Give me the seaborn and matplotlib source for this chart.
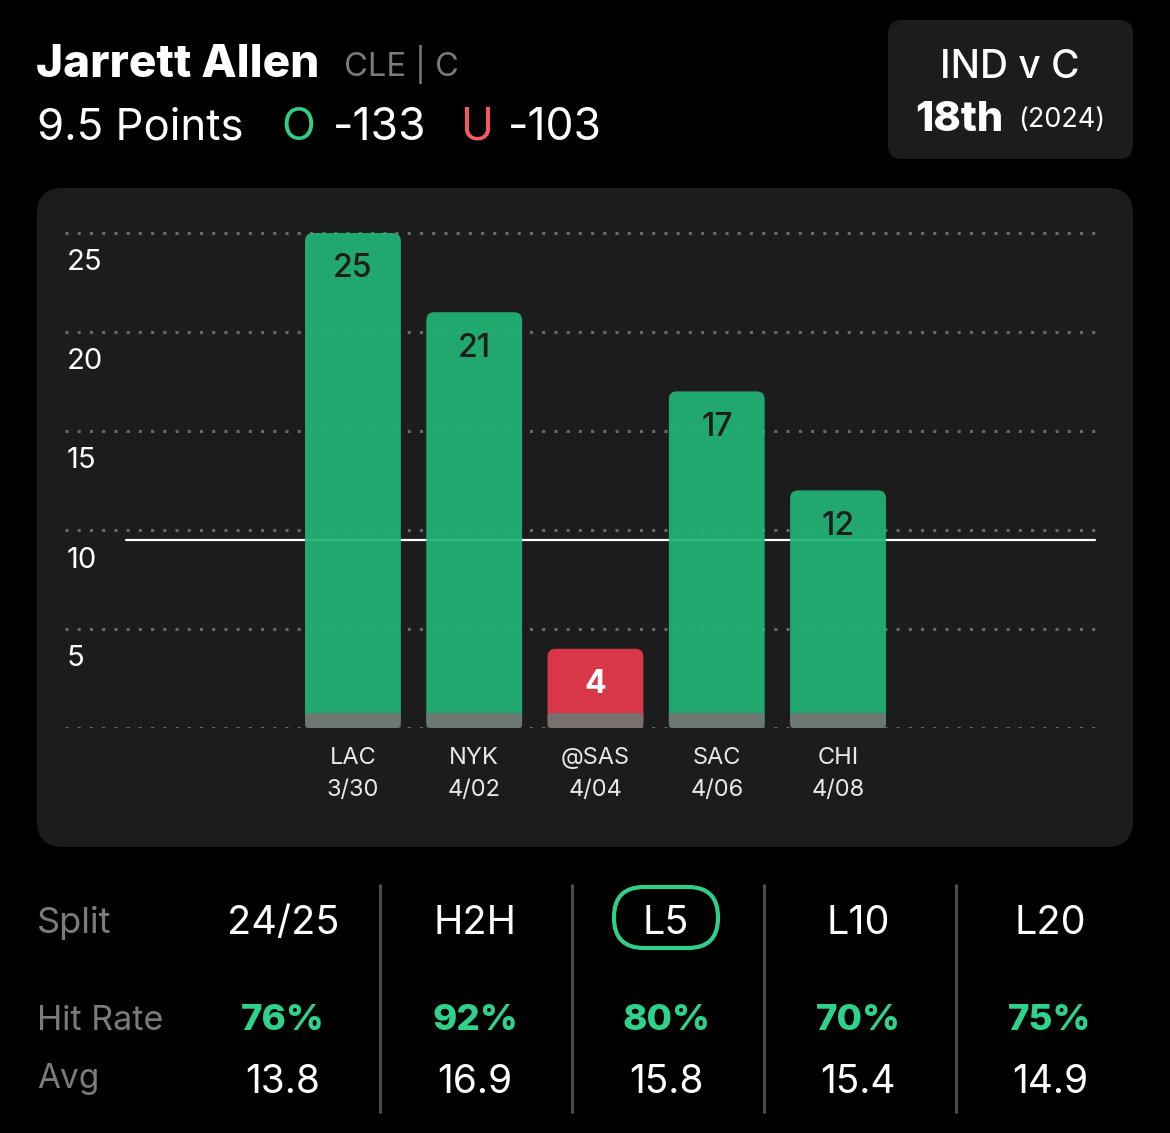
import matplotlib
matplotlib.use("Agg")
import matplotlib.pyplot as plt
import seaborn as sns
import pandas as pd
from matplotlib.patches import FancyBboxPatch
from matplotlib.transforms import ScaledTranslation

# ---------------- data ----------------
opponents = ["LAC", "NYK", "@SAS", "SAC", "CHI"]
dates = ["3/30", "4/02", "4/04", "4/06", "4/08"]
points = [25, 21, 4, 17, 12]
line_value = 9.5
y_ticks = [0, 5, 10, 15, 20, 25]
y_tick_labels = ["", "5", "10", "15", "20", "25"]

player = "Jarrett Allen"
team_pos = "CLE | C"
market = "9.5 Points"
over_label, over_odds = "O", "-133"
under_label, under_odds = "U", "-103"
matchup = "IND v C"
rank = "18th"
rank_season = "(2024)"

row_labels = ["Split", "Hit Rate", "Avg"]
splits = ["24/25", "H2H", "L5", "L10", "L20"]
hit_rates = ["76%", "92%", "80%", "70%", "75%"]
averages = ["13.8", "16.9", "15.8", "15.4", "14.9"]
selected_split = "L5"

# ---------------- style ----------------
W, H = 1170, 1133
BG = "#000000"
PANEL = "#1c1c1c"
GREEN = "#22b476"
RED = "#e83a4b"
BASE = "#737573"
HIT_GREEN = "#2dd38c"
O_GREEN = "#2fcf88"
U_RED = "#ef5b61"
GREY_TXT = "#7b7b7b"
BASE_H = 0.75

sns.set_theme(style="dark")
plt.rcParams["font.family"] = ["Inter", "DejaVu Sans"]

fig = plt.figure(figsize=(W / 100, H / 100), dpi=100, facecolor=BG)

# background / layout axes in pixel coordinates
bg = fig.add_axes([0, 0, 1, 1], zorder=0)
bg.set_xlim(0, W)
bg.set_ylim(H, 0)
bg.axis("off")
bg.set_facecolor(BG)

bg.add_patch(FancyBboxPatch((37, 188), 1096, 659, boxstyle="round,pad=0,rounding_size=26",
                            fc=PANEL, ec="none"))
bg.add_patch(FancyBboxPatch((888, 20), 245, 139, boxstyle="round,pad=0,rounding_size=14",
                            fc=PANEL, ec="none"))

# header
bg.text(36, 77, player, fontsize=33, fontweight="heavy", color="white", va="baseline", ha="left")
bg.text(344, 76, team_pos, fontsize=23.5, color=GREY_TXT, va="baseline", ha="left")
bg.text(37, 140, market, fontsize=31.5, color="white", va="baseline", ha="left")
bg.text(281, 140, over_label, fontsize=32, color=O_GREEN, va="baseline", ha="left")
bg.text(333, 140, over_odds, fontsize=32, color="white", va="baseline", ha="left")
bg.text(460, 140, under_label, fontsize=32, color=U_RED, va="baseline", ha="left")
bg.text(508, 140, under_odds, fontsize=32, color="white", va="baseline", ha="left")

# badge
bg.text(1010, 78, matchup, fontsize=28, color="white", fontweight="medium", va="baseline", ha="center")
bg.text(915, 131, rank, fontsize=30, color="white", fontweight="heavy", va="baseline", ha="left")
bg.text(1018, 127, rank_season, fontsize=19.5, color="white", va="baseline", ha="left")

# stats table
col_x = [283, 475, 666, 858, 1050]
bg.text(37, 933, row_labels[0], fontsize=26, color=GREY_TXT, va="baseline", ha="left")
bg.text(37, 1030, row_labels[1], fontsize=24.5, color=GREY_TXT, va="baseline", ha="left")
bg.text(37, 1088, row_labels[2], fontsize=24, color=GREY_TXT, va="baseline", ha="left")
for cx, s, hr, av in zip(col_x, splits, hit_rates, averages):
    bg.text(cx, 934, s, fontsize=28.5, color="white", va="baseline", ha="center")
    bg.text(cx, 1030, hr, fontsize=26.5, color=HIT_GREEN, fontweight="heavy", va="baseline", ha="center")
    bg.text(cx, 1093, av, fontsize=28, color="white", va="baseline", ha="center")
    if s == selected_split:
        bg.add_patch(FancyBboxPatch((cx - 52, 887), 104, 61, boxstyle="round,pad=0,rounding_size=30",
                                    fc="none", ec=O_GREEN, lw=3))
for dx in [380, 572, 764, 956]:
    bg.plot([dx, dx], [884, 1113], color="#4d4d4d", lw=2.2, solid_capstyle="butt")

# ---------------- chart ----------------
ax_left, ax_right = 65, 1100
ax_bottom, ax_top = 728, 213.2
ax = fig.add_axes([ax_left / W, 1 - ax_bottom / H, (ax_right - ax_left) / W, (ax_bottom - ax_top) / H],
                  zorder=1)
ax.set_facecolor("none")

df = pd.DataFrame({
    "game": [f"{o}\n{d}" for o, d in zip(opponents, dates)],
    "points": points,
    "hit": ["Over" if p > line_value else "Under" for p in points],
})
df["base"] = BASE_H

sns.barplot(data=df, x="game", y="points", hue="hit", palette={"Over": GREEN, "Under": RED},
            dodge=False, width=0.79, saturation=1, legend=False, ax=ax, zorder=2)
n_main = len(ax.patches)
sns.barplot(data=df, x="game", y="base", color=BASE, width=0.79, saturation=1, ax=ax, zorder=3)

ax.set_xlim(-2.374, 6.16)
ax.set_ylim(0, 26)

# round the bar corners
fig.canvas.draw()
bbox = ax.get_window_extent()
xl, yl = ax.get_xlim(), ax.get_ylim()
px_x = bbox.width / (xl[1] - xl[0])
px_y = bbox.height / (yl[1] - yl[0])
patches = list(ax.patches)
for i, p in enumerate(patches):
    x, y, w, h = p.get_x(), p.get_y(), p.get_width(), p.get_height()
    if h == 0:
        p.remove()
        continue
    main = i < n_main
    r_px = 8 if main else 3
    fb = FancyBboxPatch((x, y), w, h, boxstyle=f"round,pad=0,rounding_size={r_px / px_x}",
                        mutation_aspect=px_x / px_y, fc=p.get_facecolor(), ec="none",
                        alpha=0.93 if main else 0.94, zorder=2 if main else 3)
    p.remove()
    ax.add_patch(fb)

# value labels
for xi, (v, hit) in enumerate(zip(df["points"], df["hit"])):
    over = hit == "Over"
    ax.annotate(str(v), xy=(xi, v), xytext=(0, -36), textcoords="offset pixels",
                ha="center", va="center", fontsize=23,
                color="#1d1d1d" if over else "white",
                fontweight="medium" if over else "bold", zorder=4)

# threshold line
ax.axhline(line_value, xmin=(126 - ax_left) / (ax_right - ax_left),
           xmax=(1095 - ax_left) / (ax_right - ax_left), color="white", lw=1.6, zorder=1.5)

# grid and ticks
ax.set_yticks(y_ticks)
ax.set_yticklabels(y_tick_labels)
ax.yaxis.grid(True, color="#6a6a6a", linestyle=(0, (1, 3)), linewidth=2.2)
ax.xaxis.grid(False)
ax.set_axisbelow(True)
for s in ax.spines.values():
    s.set_visible(False)
ax.tick_params(axis="y", length=0, pad=0, labelsize=21, labelcolor="white")
ax.tick_params(axis="x", length=0, pad=14, labelsize=17, labelcolor="#e8e8e8")
off = ScaledTranslation(2 / 100, -27 / 100, fig.dpi_scale_trans)
for lab in ax.get_yticklabels():
    lab.set_horizontalalignment("left")
    lab.set_transform(lab.get_transform() + off)
for lab in ax.get_xticklabels():
    lab.set_linespacing(1.57)
ax.set_xlabel("")
ax.set_ylabel("")

fig.savefig("out.png", dpi=100, facecolor=BG)
